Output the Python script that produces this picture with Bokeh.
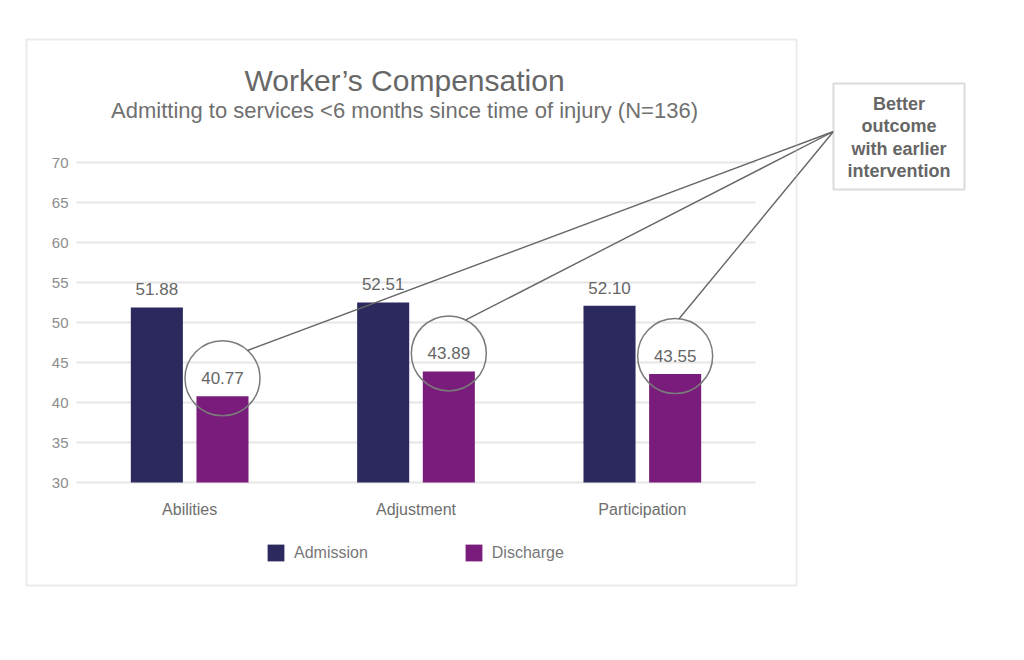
import math
from bokeh.plotting import figure
from bokeh.models import (ColumnDataSource, Range1d, Label, BoxAnnotation, Arrow,
                          Legend, LegendItem)
from bokeh.transform import dodge
from bokeh.core.properties import value
from bokeh.embed import file_html
from bokeh.resources import INLINE

# ---------------- data ----------------
categories = ["Abilities", "Adjustment", "Participation"]
admission = [51.88, 52.51, 52.10]
discharge = [40.77, 43.89, 43.55]
y_ticks = [30, 35, 40, 45, 50, 55, 60, 65, 70]
series_names = ["Admission", "Discharge"]
title_text = "Worker\u2019s Compensation"
subtitle_text = "Admitting to services <6 months since time of injury (N=136)"
callout_lines = ["Better", "outcome", "with earlier", "intervention"]

# ---------------- layout / style ----------------
FONT = "Liberation Sans"
ADM_COLOR = "#2b295e"
DIS_COLOR = "#7a1c7c"
W, H = 1000, 640
# plot area in canvas pixels
PL, PR = 76, 755            # left / right of the category band
Y_BASE, PY_BASE = 30, 482   # value 30 sits at canvas y 482
PX_PER_Y = 8.0
n = len(categories)
PX_PER_X = (PR - PL) / n
x_lo = -0.5 - PL / PX_PER_X
x_hi = -0.5 + (W - PL) / PX_PER_X
y_lo = Y_BASE - (H - PY_BASE) / PX_PER_Y
y_hi = Y_BASE + PY_BASE / PX_PER_Y

OFF = 0.145
BAR_W = 0.23
CIRCLE_LIFT = 2.25
CIRCLE_D = 75
TEXT_MAIN = "#666666"

p = figure(width=W, height=H, x_range=Range1d(x_lo, x_hi), y_range=Range1d(y_lo, y_hi),
           output_backend="svg", toolbar_location=None,
           x_axis_type=None, y_axis_type=None,
           min_border_left=0, min_border_right=0, min_border_top=0, min_border_bottom=0)
p.outline_line_color = None
p.background_fill_color = "white"
p.border_fill_color = "white"
p.xgrid.visible = False
p.ygrid.visible = False

xpos = list(range(n))
src = ColumnDataSource(dict(
    cat=categories, x=xpos, adm=admission, dis=discharge,
    adm_lbl=[f"{v:.2f}" for v in admission],
    dis_lbl=[f"{v:.2f}" for v in discharge],
    circ=[v + CIRCLE_LIFT for v in discharge],
))
tick_src = ColumnDataSource(dict(y=y_ticks, lbl=[str(t) for t in y_ticks],
                                 x0=[-0.5] * len(y_ticks), x1=[n - 0.5] * len(y_ticks)))

# grid lines
p.segment(x0="x0", x1="x1", y0="y", y1="y", source=tick_src,
          line_color="#e6e6e6", line_width=2)
# y tick labels
p.text(x="x0", y="y", text="lbl", source=tick_src, x_offset=-8,
       text_align="right", text_baseline="middle",
       text_font=value(FONT), text_font_size="15px", text_color="#8c8c8c")

# bars
r_adm = p.vbar(x=dodge("x", -OFF), top="adm", bottom=Y_BASE, width=BAR_W,
               source=src, fill_color=ADM_COLOR, line_color=None)
r_dis = p.vbar(x=dodge("x", OFF), top="dis", bottom=Y_BASE, width=BAR_W,
               source=src, fill_color=DIS_COLOR, line_color=None)

# category labels
p.text(x="x", y=Y_BASE, text="cat", source=src, y_offset=27,
       text_align="center", text_baseline="middle",
       text_font=value(FONT), text_font_size="16px", text_color="#6e6e6e")

# value labels
for off, col, lbl in [(-OFF, "adm", "adm_lbl"), (OFF, "dis", "dis_lbl")]:
    p.text(x=dodge("x", off), y=col, text=lbl, source=src,
           text_align="center", text_baseline="middle", y_offset=-18,
           text_font=value(FONT), text_font_size="17px", text_color=TEXT_MAIN)

# highlight circles
p.scatter(x=dodge("x", OFF), y="circ", size=CIRCLE_D, marker="circle",
          fill_color=None, line_color="#7a7a7a", line_width=1.5, source=src)

# callout lines from box to circles
angles = [48, 63, 84]
R = CIRCLE_D / 2
for i, a in enumerate(angles):
    xe = xpos[i] + OFF + R * math.cos(math.radians(a)) / PX_PER_X
    ye = discharge[i] + CIRCLE_LIFT + R * math.sin(math.radians(a)) / PX_PER_Y
    p.add_layout(Arrow(end=None, x_start=833, y_start=131, start_units="canvas",
                       x_end=xe, y_end=ye, end_units="data",
                       line_color="#666666", line_width=1.4))

# legend
legend = Legend(items=[LegendItem(label=series_names[0], renderers=[r_adm]),
                       LegendItem(label=series_names[1], renderers=[r_dis])],
                location=(265, 77), orientation="horizontal",
                padding=0, margin=0, spacing=95, glyph_width=21, glyph_height=21,
                label_standoff=8, label_height=21,
                label_text_font=FONT, label_text_font_size="16px", label_text_color="#777777",
                background_fill_alpha=0, border_line_color=None)
p.add_layout(legend, "center")

# outer frame and callout box
p.add_layout(BoxAnnotation(left=26, right=796, top=39, bottom=585,
                           left_units="canvas", right_units="canvas",
                           top_units="canvas", bottom_units="canvas",
                           fill_color=None, line_color="#bcbcbc", line_width=2))
p.add_layout(BoxAnnotation(left=833, right=964, top=83, bottom=189,
                           left_units="canvas", right_units="canvas",
                           top_units="canvas", bottom_units="canvas",
                           fill_color="white", fill_alpha=1, line_color="#888888", line_width=2))

# titles
p.add_layout(Label(x=404, y=80, x_units="canvas", y_units="canvas", text=title_text,
                   text_align="center", text_baseline="middle", text_font=FONT,
                   text_font_size="30px", text_color="#676767"))
p.add_layout(Label(x=404, y=110, x_units="canvas", y_units="canvas", text=subtitle_text,
                   text_align="center", text_baseline="middle", text_font=FONT,
                   text_font_size="22px", text_color="#707070"))

for j, t in enumerate(callout_lines):
    p.add_layout(Label(x=898.5, y=103 + j * 22.5, x_units="canvas", y_units="canvas", text=t,
                       text_align="center", text_baseline="middle", text_font=FONT,
                       text_font_style="bold", text_font_size="18px", text_color=TEXT_MAIN))

open("out.html", "w").write(file_html(p, INLINE))
